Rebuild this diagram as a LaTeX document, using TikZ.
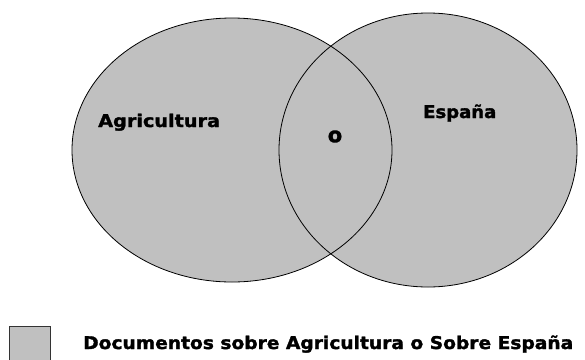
\documentclass[tikz,border=0pt]{standalone}
\usepackage{fontspec}
\setmainfont{DejaVu Sans}[BoldFeatures={FakeBold=1.6}]
\definecolor{venngray}{HTML}{C0C0C0}
\tikzset{
  setshape/.style={fill=venngray},
  setline/.style={draw=black, line width=0.8pt},
  lbl/.style={inner sep=0pt, font=\fontsize{17.5}{19}\selectfont\bfseries},
}
\newcommand{\wide}[2]{\scalebox{#1}[1]{#2}}
\begin{document}
\begin{tikzpicture}[x=1pt,y=-1pt]
\useasboundingbox (0,0) rectangle (585,359);
% fills
\fill[setshape] (232,150) ellipse [x radius=160, y radius=132];
\fill[setshape] (428,150) ellipse [x radius=149, y radius=137];
% outlines
\draw[setline] (232,150) ellipse [x radius=160, y radius=132];
\draw[setline] (428,150) ellipse [x radius=149, y radius=137];
% labels
\node[lbl, anchor=base west] (agri) at (98,127) {\wide{1.1}{Agricultura}};
\node[lbl, anchor=base west] (esp) at (423,118) {\wide{1.03}{España}};
\node[lbl, anchor=center, font=\fontsize{21}{22}\selectfont\bfseries] (o) at (335,136.5) {o};
% legend
\filldraw[fill=venngray, draw=black!80, line width=0.8pt] (9,326) rectangle (50,364);
\node[lbl, anchor=base west] (legend) at (83,349) {\wide{1.065}{Documentos sobre Agricultura o Sobre España}};
\end{tikzpicture}
\end{document}
